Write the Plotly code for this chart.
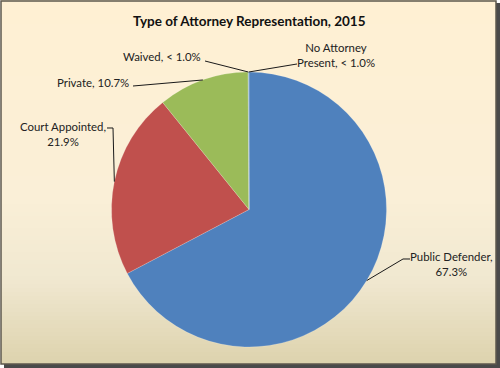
import math
import plotly.graph_objects as go

# ---- data ----
labels = ["Public Defender", "Court Appointed", "Private", "Waived", "No Attorney Present"]
values = [67.3, 21.9, 10.7, 0.05, 0.05]
label_texts = ["Public Defender,<br>67.3%", "Court Appointed,<br>21.9%", "Private, 10.7%",
               "Waived, < 1.0%", "No Attorney<br>Present, < 1.0%"]
colors = ["#4F81BD", "#C0504D", "#9BBB59", "#8064A2", "#4BACC6"]
title_text = "Type of Attorney Representation, 2015"

# ---- layout geometry (pixels) ----
W, H = 500, 368
cx, cy, r = 249, 209.5, 137.5

def px(x):
    return x / W

def py(y):
    return 1 - y / H

# label placement: (text x, text y, xanchor, leader start points)
label_layout = [
    (451, 264, "center", [(410, 259), (403, 259)]),
    (63, 133.5, "center", [(107, 128), (113, 128)]),
    (131, 82, "right", [(133, 86)]),
    (203, 57, "right", [(205, 61)]),
    (336, 54.5, "center", [(297, 64)]),
]

fig = go.Figure()
fig.add_trace(go.Pie(
    labels=labels, values=values, sort=False, direction="clockwise", rotation=0,
    marker=dict(colors=colors, line=dict(color="rgba(255,255,255,0.3)", width=0.6)),
    textinfo="none", hoverinfo="label+percent", showlegend=False,
    domain=dict(x=[px(cx - r), px(cx + r)], y=[py(cy + r), py(cy - r)]),
))

shapes = []
# background gradient
stops = [(0, (255, 240, 211)), (200, (250, 239, 215)), (280, (240, 232, 208)), (364, (221, 210, 173))]
def col_at(y):
    for (y0, c0), (y1, c1) in zip(stops[:-1], stops[1:]):
        if y0 <= y <= y1:
            t = (y - y0) / (y1 - y0)
            return tuple(round(a + (b - a) * t) for a, b in zip(c0, c1))
    return stops[-1][1]
step = 4
for y in range(0, 364, step):
    c = col_at(y + step / 2)
    shapes.append(dict(type="rect", xref="paper", yref="paper", layer="below",
                       x0=px(1), x1=px(496), y0=py(y), y1=py(min(y + step + 0.5, 364)),
                       fillcolor="rgb(%d,%d,%d)" % c, line=dict(width=0)))
# shadows
shapes.append(dict(type="rect", xref="paper", yref="paper", layer="below",
                   x0=px(496), x1=px(500), y0=py(3), y1=py(368),
                   fillcolor="#4a4a4a", line=dict(width=0)))
shapes.append(dict(type="rect", xref="paper", yref="paper", layer="below",
                   x0=px(4), x1=px(500), y0=py(364), y1=py(368),
                   fillcolor="#4a4a4a", line=dict(width=0)))
# frame
shapes.append(dict(type="rect", xref="paper", yref="paper", layer="above",
                   x0=px(1), x1=px(496), y0=py(1), y1=py(364),
                   line=dict(color="#5e584d", width=1.5)))

# leader lines (end points from slice mid-angles)
total = sum(values)
cum = 0
annotations = []
for v, txt, (tx, ty, xa, starts) in zip(values, label_texts, label_layout):
    a = 2 * math.pi * (cum + v / 2) / total
    cum += v
    ex, ey = cx + r * math.sin(a), cy - r * math.cos(a)
    pts = starts + [(ex, ey)]
    path = "M " + " L ".join("%f,%f" % (px(x), py(y)) for x, y in pts)
    shapes.append(dict(type="path", xref="paper", yref="paper", layer="above",
                       path=path, line=dict(color="#1a1a1a", width=1)))
    annotations.append(dict(x=px(tx), y=py(ty), xref="paper", yref="paper",
                            text=txt, showarrow=False, xanchor=xa, yanchor="middle",
                            align="center", font=dict(family="Lato", size=11.4, color="#222222")))

annotations.append(dict(x=px(249), y=py(21), xref="paper", yref="paper",
                        text="<b>" + title_text + "</b>", showarrow=False,
                        xanchor="center", yanchor="middle",
                        font=dict(family="Lato", size=13.5, color="#111111")))

fig.update_layout(width=W, height=H, margin=dict(l=0, r=0, t=0, b=0),
                  paper_bgcolor="white", plot_bgcolor="white",
                  shapes=shapes, annotations=annotations)
fig.write_html("out.html")
